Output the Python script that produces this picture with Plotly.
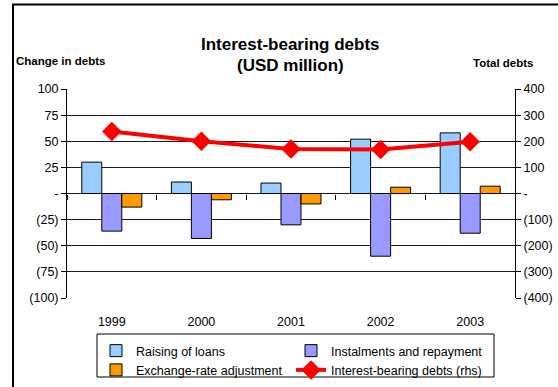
import plotly.graph_objects as go

# Years on the category axis
years = ["1999", "2000", "2001", "2002", "2003"]

# Change in debts (USD million, left axis)
raising_of_loans = [30, 11, 10, 52, 58]
instalments_repayment = [-36, -43, -30, -60, -38]
exchange_rate_adj = [-13, -6, -10, 6, 7]

# Total interest-bearing debts (USD million, right axis)
total_debts = [237, 200, 170, 168, 198]

# Axis tick labels
left_ticks = [100, 75, 50, 25, 0, -25, -50, -75, -100]
left_labels = ["100", "75", "50", "25", "-", "(25)", "(50)", "(75)", "(100)"]
right_ticks = [400, 300, 200, 100, 0, -100, -200, -300, -400]
right_labels = ["400", "300", "200", "100", "-", "(100)", "(200)", "(300)", "(400)"]

W, H = 558, 387
L, R, T, B = 67, 43, 89, 89
PW, PH = W - L - R, H - T - B


def px(x):
    return (x - L) / PW


def py(y):
    return (H - B - y) / PH


FONT = "Liberation Sans, Arial, sans-serif"

fig = go.Figure()
bar_line = dict(color="#000000", width=1)
fig.add_trace(go.Bar(x=years, y=raising_of_loans, name="Raising of loans",
                     marker=dict(color="#99CCFF", line=bar_line)))
fig.add_trace(go.Bar(x=years, y=instalments_repayment, name="Instalments and repayment",
                     marker=dict(color="#9999FF", line=bar_line)))
fig.add_trace(go.Bar(x=years, y=exchange_rate_adj, name="Exchange-rate adjustment",
                     marker=dict(color="#FF9900", line=bar_line)))
fig.add_trace(go.Scatter(x=years, y=total_debts, name="Interest-bearing debts (rhs)",
                         yaxis="y2", mode="lines+markers",
                         line=dict(color="#FF0000", width=4),
                         marker=dict(symbol="diamond", size=15, color="#FF0000")))
# helper trace so the category tick marks along the zero line get drawn
fig.add_trace(go.Scatter(x=years, y=[None] * len(years), xaxis="x2",
                         showlegend=False, hoverinfo="skip"))

fig.update_layout(
    width=W, height=H,
    margin=dict(l=L, r=R, t=T, b=B, autoexpand=False),
    paper_bgcolor="white", plot_bgcolor="white",
    font=dict(family=FONT, size=12, color="#000000"),
    barmode="group", bargap=0.33, bargroupgap=0,
    showlegend=True,
    legend=dict(orientation="h", x=px(96), y=py(336), xanchor="left", yanchor="top",
                entrywidth=150, entrywidthmode="pixels",
                bgcolor="rgba(0,0,0,0)", borderwidth=0,
                font=dict(size=12.5, family=FONT), traceorder="normal"),
    xaxis=dict(type="category", range=[-0.5, 4.5], showgrid=False, showline=False,
               ticks="", ticklabelstandoff=14, tickfont=dict(size=12.5),
               zeroline=False),
    xaxis2=dict(type="category", overlaying="x", anchor="free", position=0.5,
                range=[-0.5, 4.5], matches="x", showticklabels=False,
                ticks="outside", tickson="boundaries", ticklen=5, tickcolor="#000000",
                showgrid=False, showline=False, zeroline=False),
    yaxis=dict(range=[-100, 100], tickvals=left_ticks, ticktext=left_labels,
               showgrid=True, gridcolor="#1a1a1a", gridwidth=1,
               zeroline=True, zerolinecolor="#1a1a1a", zerolinewidth=1,
               showline=True, linecolor="#000000", linewidth=1,
               ticks="outside", ticklen=5, tickcolor="#000000",
               tickfont=dict(size=12.5)),
    yaxis2=dict(range=[-400, 400], tickvals=right_ticks, ticktext=right_labels,
                overlaying="y", side="right", showgrid=False, zeroline=False,
                showline=True, linecolor="#000000", linewidth=1,
                ticks="outside", ticklen=5, tickcolor="#000000",
                tickfont=dict(size=12.5)),
    annotations=[
        dict(text="<b>Interest-bearing debts</b>", x=px(290.5), y=py(33),
             xref="paper", yref="paper", showarrow=False,
             font=dict(size=17)),
        dict(text="<b>(USD million)</b>", x=px(290.5), y=py(54),
             xref="paper", yref="paper", showarrow=False,
             font=dict(size=17)),
        dict(text="<b>Change in debts</b>", x=px(14), y=py(53),
             xref="paper", yref="paper", xanchor="left", showarrow=False,
             font=dict(size=11.5)),
        dict(text="<b>Total debts</b>", x=px(535), y=py(55),
             xref="paper", yref="paper", xanchor="right", showarrow=False,
             font=dict(size=11.5)),
    ],
    shapes=[
        # outer frame of the chart
        dict(type="rect", xref="paper", yref="paper",
             x0=px(13), x1=px(620), y0=py(4.5), y1=py(430),
             line=dict(color="#000000", width=2), layer="below"),
        # legend box
        dict(type="rect", xref="paper", yref="paper",
             x0=px(97), x1=px(494), y0=py(334), y1=py(377),
             line=dict(color="#000000", width=1), layer="above"),
    ],
)

fig.write_html("out.html")
